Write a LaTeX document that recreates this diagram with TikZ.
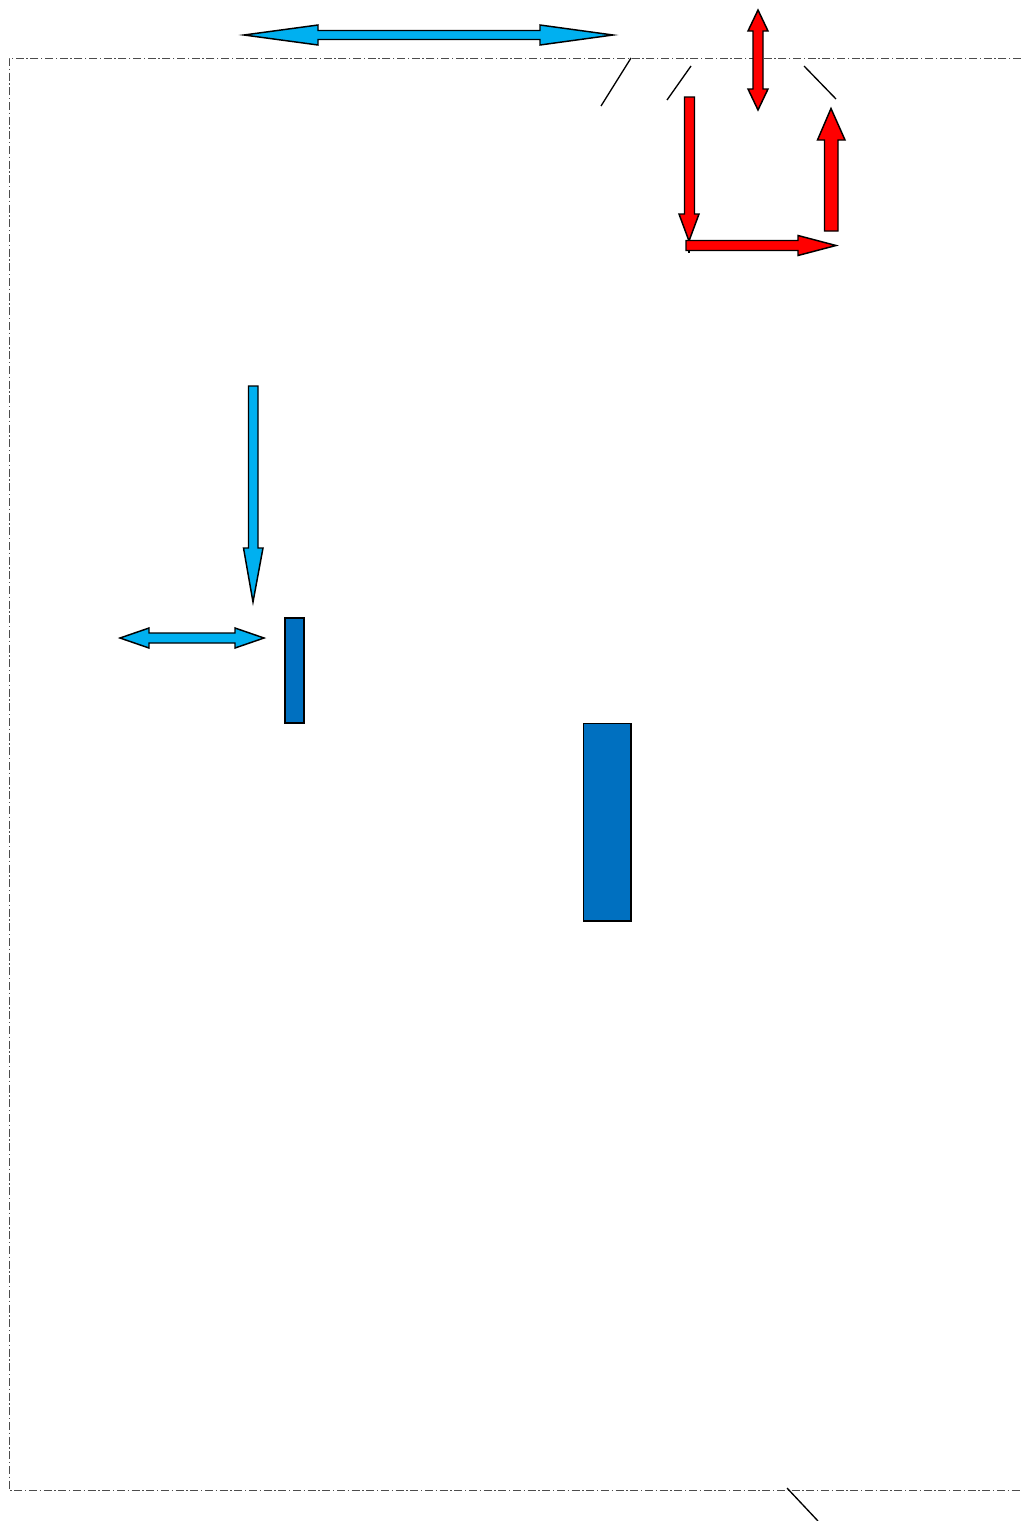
\documentclass[tikz,border=0pt]{standalone}
\usepackage{tikz}
\definecolor{lblue}{HTML}{00B0F0}
\definecolor{dblue}{HTML}{0070C0}
\definecolor{rred}{HTML}{FF0000}
\tikzset{
  bluearrow/.style={fill=lblue,draw=black,line width=1.1pt,line join=miter},
  redarrow/.style={fill=rred,draw=black,line width=1.1pt,line join=miter},
  bluebar/.style={fill=dblue,draw=black,line width=1.1pt},
  border/.style={draw=black!70,line width=0.7pt,dash pattern=on 6pt off 2pt on 1pt off 2pt},
  thinline/.style={draw=black,line width=1pt}
}
\begin{document}
\begin{tikzpicture}[x=0.75pt,y=-0.75pt]
\useasboundingbox (0,0) rectangle (1021,1521);
% border
\draw[border] (1021,58) -- (9,58) -- (9,1490) -- (1021,1490);
% top blue double arrow
\draw[bluearrow] (244,35) -- (318,25) -- (318,30.5) -- (540,30.5) -- (540,25) -- (613,35)
  -- (540,45) -- (540,39.5) -- (318,39.5) -- (318,45) -- cycle;
% slanted lines
\draw[thinline] (631,58) -- (601,106);
\draw[thinline] (691,66) -- (667,100);
\draw[thinline] (804,66) -- (836,99);
\draw[thinline] (787,1488) -- (818,1521);
% red vertical double arrow
\draw[redarrow] (758,10) -- (768,31) -- (763,31) -- (763,89) -- (768,89) -- (758,110)
  -- (748,89) -- (753,89) -- (753,31) -- (748,31) -- cycle;
% red down arrow
\draw[redarrow] (684.5,97) -- (694.5,97) -- (694.5,214) -- (699,214) -- (689,241)
  -- (679,214) -- (684.5,214) -- cycle;
\draw[thinline] (689,241) -- (689,253);
% red right arrow
\draw[redarrow] (686,240.5) -- (798,240.5) -- (798,235.5) -- (836,245.5) -- (798,255.5)
  -- (798,250.5) -- (686,250.5) -- cycle;
% red up arrow
\draw[redarrow] (831,108.5) -- (845,140) -- (838,140) -- (838,231) -- (824.5,231)
  -- (824.5,140) -- (817.5,140) -- cycle;
% blue down arrow
\draw[bluearrow] (248.5,386) -- (258,386) -- (258,548) -- (263,548) -- (253,602)
  -- (243.5,548) -- (248.5,548) -- cycle;
% blue horizontal double arrow
\draw[bluearrow] (120,638) -- (149,628) -- (149,633) -- (235,633) -- (235,628) -- (264,638)
  -- (235,648) -- (235,643) -- (149,643) -- (149,648) -- cycle;
% blue bars
\draw[bluebar] (285,618) rectangle (304,723);
\draw[bluebar] (583.5,723.5) rectangle (631,921);
\end{tikzpicture}
\end{document}
